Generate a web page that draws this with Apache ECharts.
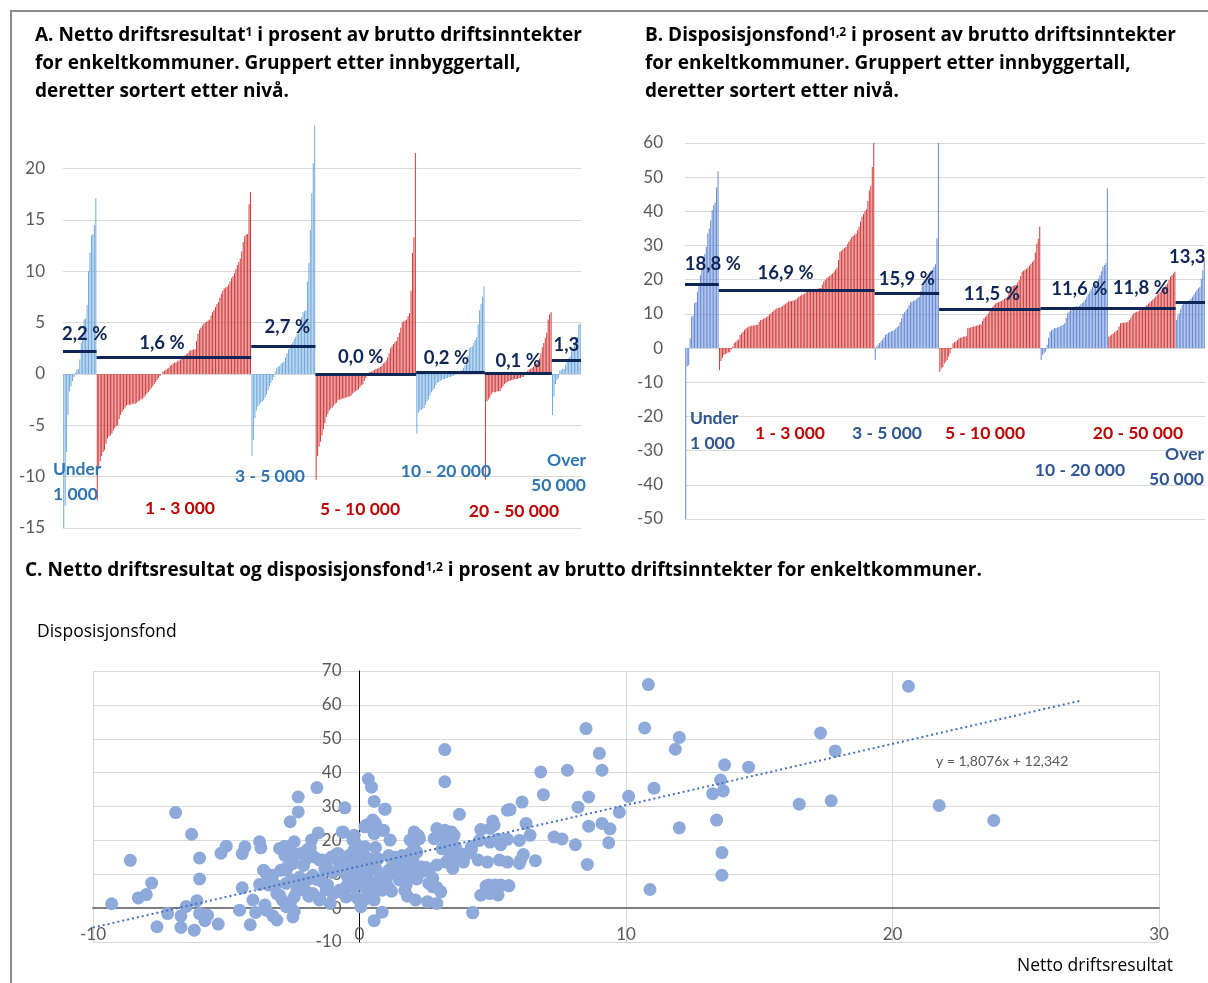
<!DOCTYPE html>
<html><head><meta charset="utf-8">
<script src="https://cdn.jsdelivr.net/npm/echarts@6/dist/echarts.min.js"></script>
<style>html,body{margin:0;padding:0;background:#fff;}#c{width:1208px;height:983px;}</style>
</head><body><div id="c"></div>
<script>
// ---------- DATA ----------
const groupNames = ['Under 1 000','1 - 3 000','3 - 5 000','5 - 10 000','10 - 20 000','20 - 50 000','Over 50 000'];

// Panel A: netto driftsresultat (% of brutto driftsinntekter), sorted within each group
const aUnder1000 = [-15,-12.8,-7.6,-4.0,-1.7,-1.2,-0.7,-0.3,0.1,0.4,0.5,1.4,3.0,4.0,5.3,5.4,6.7,10.0,11.8,13.5,13.6,14.5,17.1];
const a1to3000 = [-12.3,-9.2,-8.5,-8.0,-7.6,-7.4,-6.8,-6.3,-6.1,-6.0,-5.8,-5.5,-5.3,-5.1,-5.0,-4.4,-4.0,-3.7,-3.5,-3.3,
  -3.1,-3.0,-3.0,-3.0,-2.9,-2.9,-2.9,-2.8,-2.7,-2.6,-2.5,-2.4,-2.3,-2.1,-1.9,-1.8,-1.6,-1.4,-1.2,-1.0,
  -0.8,-0.6,-0.4,-0.2,0.0,0.2,0.3,0.4,0.5,0.6,0.8,0.9,1.0,1.1,1.1,1.2,1.3,1.4,1.6,1.7,
  1.8,1.9,2.0,2.2,2.3,2.3,2.4,2.4,3.2,3.9,4.3,4.5,4.7,4.9,5.0,5.1,5.2,5.3,5.7,6.0,
  6.2,6.5,6.8,7.0,7.4,7.8,8.1,8.3,8.4,8.5,8.7,9.0,9.3,9.5,9.8,10.2,10.6,10.9,11.2,11.9,
  12.8,13.4,13.6,13.6,16.5,17.7];
const a3to5000 = [-8.0,-6.4,-4.3,-3.6,-3.2,-3.0,-2.8,-2.7,-2.6,-2.3,-2.0,-1.6,-1.2,-0.9,-0.6,-0.3,0.2,0.6,0.7,0.8,
  1.0,1.1,1.2,1.6,2.0,2.4,2.7,2.9,3.1,3.4,3.6,3.9,4.3,4.8,5.5,6.0,6.1,6.2,9.0,10.8,14.0,17.6,20.5,24.2];
const a5to10000 = [-10.3,-8.0,-7.1,-6.6,-6.0,-5.4,-4.8,-4.2,-3.9,-3.6,-3.4,-3.3,-3.1,-2.9,-2.8,-2.6,-2.5,-2.5,-2.4,-2.4,
  -2.3,-2.3,-2.2,-2.2,-2.1,-1.9,-1.8,-1.7,-1.6,-1.5,-1.3,-1.1,-1.0,-0.7,-0.4,0.0,0.1,0.2,0.2,0.3,
  0.4,0.5,0.5,0.6,0.7,0.8,1.0,1.1,1.3,1.6,2.0,2.5,2.7,2.9,3.1,3.2,3.6,4.0,4.5,5.0,
  5.1,5.2,5.3,5.6,5.9,8.1,11.8,13.3,21.5];
const a10to20000 = [-5.8,-3.8,-3.6,-3.5,-3.4,-3.3,-3.0,-2.7,-2.5,-2.1,-1.8,-1.6,-1.4,-1.1,-0.9,-0.8,-0.7,-0.6,-0.5,-0.5,
  -0.4,-0.4,-0.3,-0.3,-0.2,-0.2,-0.1,0.0,0.1,0.2,0.3,0.4,0.6,0.9,1.2,1.8,2.5,2.6,2.7,3.0,
  3.3,3.6,4.8,6.2,6.8,7.5,8.5];
const a20to50000 = [-10.3,-2.7,-2.5,-2.3,-2.0,-1.8,-1.8,-1.8,-1.7,-1.7,-1.7,-1.4,-1.2,-1.0,-0.9,-0.8,-0.7,-0.7,-0.6,-0.6,
  -0.5,-0.5,-0.5,-0.4,-0.4,-0.3,-0.3,-0.1,0.1,0.3,0.4,0.5,0.6,0.7,0.9,1.0,1.2,1.5,2.0,2.6,
  3.0,3.5,4.0,5.3,5.8,6.0];
const aOver50000 = [-4.0,-2.2,-1.0,-0.6,-0.4,0.3,0.4,0.5,0.5,0.9,1.2,1.5,1.7,2.2,2.6,3.0,3.3,3.6,4.8,4.9];
const avgA = [2.2,1.6,2.7,0.0,0.2,0.1,1.3];
const avgALabels = ['2,2 %','1,6 %','2,7 %','0,0 %','0,2 %','0,1 %','1,3'];

// Panel B: disposisjonsfond (% of brutto driftsinntekter), sorted within each group
const bUnder1000 = [-50,-5.4,-5.0,2.9,9.2,9.5,13.1,13.5,16.5,18.5,21.3,23.0,25.0,27.5,29.6,33.5,35.0,37.4,40.3,41.8,42.5,47.0,51.7];
const b1to3000 = [-6.4,-3.8,-2.8,-2.0,-1.7,-1.5,-1.3,-1.2,-0.4,0.5,1.4,1.8,2.2,2.5,3.8,4.3,4.8,5.3,5.7,6.0,
  6.3,6.4,6.5,6.6,6.7,6.8,6.8,7.6,8.2,8.4,8.6,8.8,9.0,9.4,9.8,10.2,10.6,11.0,11.3,11.6,
  11.7,11.9,12.0,12.3,12.7,13.0,13.3,13.6,13.7,13.8,13.9,14.0,14.3,14.6,15.0,15.3,15.5,15.7,16.0,16.3,
  16.5,16.6,16.8,16.9,17.1,17.2,17.3,17.4,17.5,17.6,18.5,19.5,20.0,20.4,20.8,21.1,21.5,21.8,22.4,23.0,
  23.5,25.8,28.2,28.5,28.9,29.3,29.6,30.4,31.1,31.8,32.5,32.8,33.2,33.5,34.5,35.5,37.0,38.4,39.2,40.0,
  40.6,43.0,46.2,47.5,53.0,60.0];
const b3to5000 = [-3.5,0.5,1.0,1.5,2.0,2.5,3.2,3.8,4.2,4.5,4.7,4.9,5.1,5.3,5.7,6.1,6.5,7.6,8.7,10.0,
  10.5,11.1,11.6,12.5,13.4,13.6,13.8,14.0,14.3,14.7,15.0,16.7,18.4,19.0,19.5,20.7,21.8,22.2,22.6,23.0,
  23.8,24.5,32.1,60.0];
const b5to10000 = [-6.9,-6.0,-5.5,-4.5,-4.0,-3.5,-2.5,-1.5,-0.3,1.4,1.7,1.9,2.4,2.9,3.0,3.1,3.3,3.4,3.5,5.8,
  5.9,6.0,6.2,6.3,6.4,6.5,6.7,6.8,7.0,7.9,8.7,9.1,9.5,10.2,10.9,11.6,12.1,12.6,13.1,13.3,
  13.5,13.7,13.8,14.1,14.4,14.7,15.0,16.5,17.9,18.1,18.2,18.4,18.5,19.2,19.9,21.1,22.3,22.6,22.9,23.2,
  23.5,24.1,24.7,25.2,25.7,28.0,30.6,32.0,35.5];
const b10to20000 = [-3.5,-2.0,-1.5,-1.0,1.0,3.0,4.8,5.2,5.5,5.8,5.9,6.0,6.2,6.4,6.5,6.9,7.3,8.8,10.2,10.7,
  11.2,11.6,12.0,12.1,12.2,12.2,12.3,12.8,13.2,13.6,14.3,15.0,15.8,16.5,17.2,17.9,18.4,18.9,19.4,20.3,
  21.3,22.5,23.8,24.3,24.8,46.7];
const b20to50000 = [3.3,3.6,4.0,4.3,4.6,5.0,5.3,6.3,7.3,7.4,7.4,7.5,7.5,7.6,8.2,8.9,9.6,10.2,10.4,10.6,
  10.8,11.0,11.2,11.5,11.9,12.2,12.6,13.0,13.4,13.8,14.2,14.6,15.1,15.6,16.0,16.5,17.0,17.4,17.9,18.4,
  18.9,19.9,20.9,21.4,21.8,22.3];
const bOver50000 = [8.2,9.5,10.2,11.5,12.6,13.0,13.3,13.6,13.8,14.0,14.5,15.0,15.7,16.3,17.0,17.5,17.9,20.3,22.8,25.7];
const avgB = [18.8,16.9,15.9,11.5,11.6,11.8,13.3];
const avgBLabels = ['18,8 %','16,9 %','15,9 %','11,5 %','11,6 %','11,8 %','13,3'];

// Panel C: [netto driftsresultat, disposisjonsfond]
const scatterPoints = [
 [-9.3,1.3],[-8.6,14.1],[-8.3,3.0],[-8.0,4.0],[-7.8,7.4],[-6.9,28.2],[-7.6,-5.5],[-7.2,-1.6],[-6.7,-5.7],[-6.7,-2.3],
 [-6.5,0.5],[-6.3,21.8],[-6.2,-6.5],[-6.1,2.2],[-6.0,14.8],[-6.0,8.6],[-6.0,-1.6],[-5.8,-3.7],[-5.7,-2.1],[-5.3,-4.7],
 [-5.2,16.2],[-5.0,18.3],[-4.5,-0.6],[-4.4,16.1],[-4.3,18.1],[-4.4,6.0],[-4.1,-4.9],[-4.0,2.4],[-3.9,-1.3],[-3.75,19.6],
 [-3.7,17.8],[-3.6,11.2],[-3.5,10.2],[-3.25,9.7],[-3.75,7.0],[-3.55,0.9],[-3.5,-0.6],[-3.25,-2.3],[-3.1,-3.5],[-3.1,4.3],
 [-3.0,17.6],[-2.8,18.3],[-2.8,15.6],[-2.6,25.5],[-2.55,16.6],[-2.5,13.2],[-2.75,11.2],[-2.95,11.2],[-2.75,7.3],[-3.0,3.8],
 [-2.9,2.4],[-2.75,0.4],[-2.5,-2.6],[-2.45,19.6],[-2.3,28.4],[-2.3,32.8],[-2.55,8.3],[-2.45,3.3],[-3.4,6.8],[-3.15,6.8],
 [-2.7,12.2],[-2.6,1.4],[-2.45,-1.0],[-2.35,5.0],[-2.5,7.8],[-2.1,12.6],[-1.9,3.5],[-1.8,20.1],[-1.85,17.7],[-1.6,35.6],
 [-1.55,22.2],[-1.7,15.1],[-1.5,14.2],[-1.3,14.0],[-1.75,9.7],[-1.45,8.3],[-1.2,6.8],[-1.5,2.4],[-1.1,1.4],[-1.0,4.3],
 [-0.85,16.0],[-0.6,22.4],[-0.55,29.6],[-0.75,13.2],[-0.7,4.8],[-0.45,9.2],[-0.5,3.3],[-0.25,20.1],[-0.2,17.1],[-0.4,15.1],
 [-0.15,11.2],[-0.05,7.3],[-0.1,3.2],[-2.25,9.1],[-2.0,5.0],[-1.75,4.3],[-1.5,3.0],[-1.25,5.5],[-1.4,7.8],[-1.6,8.5],
 [-1.9,8.6],[-2.1,7.5],[-2.5,15.0],[-2.2,16.1],[-2.0,14.5],[-1.95,17.3],[-1.85,15.9],[-1.4,14.2],[-1.25,12.7],[-1.05,15.1],
 [-0.8,16.1],[-0.7,11.2],[-0.55,14.6],[-0.65,22.5],[-0.2,21.5],[-0.15,19.1],[-0.4,15.5],[-0.15,16.0],[0.0,13.9],[0.2,15.3],
 [0.4,14.5],[0.1,12.3],[-0.2,11.8],[-0.4,11.2],[0.45,11.2],[0.6,11.8],[0.75,10.2],[1.0,8.3],[0.6,7.3],[0.3,8.3],
 [0.0,9.3],[-0.2,8.3],[-0.4,7.3],[-0.5,6.3],[-0.75,5.3],[-0.2,6.3],[0.2,6.3],[0.5,5.3],[0.85,5.3],[1.0,7.3],
 [0.2,24.0],[0.33,38.1],[0.45,35.7],[0.55,31.5],[0.5,26.0],[0.6,25.0],[0.95,29.2],[0.55,22.0],[0.85,23.0],[0.2,18.1],
 [0.6,17.9],[0.7,14.6],[0.25,12.2],[0.2,9.2],[0.45,7.3],[0.75,8.3],[1.0,5.8],[0.55,2.4],[0.25,2.8],[0.55,-3.7],
 [0.85,-1.2],[0.05,0.4],[-0.05,2.8],[0.25,24.5],[0.9,23.0],[1.15,20.1],[2.05,22.5],[2.2,21.5],[2.25,20.5],[1.9,20.1],
 [2.9,23.5],[3.2,23.0],[3.45,22.5],[3.55,21.5],[2.8,20.5],[3.25,19.6],[3.9,15.6],[3.75,14.6],[3.9,13.6],[3.25,13.6],
 [3.5,11.7],[2.75,8.8],[2.9,12.7],[2.5,12.0],[2.3,12.2],[2.1,12.0],[2.1,8.9],[1.75,6.8],[1.8,3.5],[2.1,2.4],
 [2.55,1.9],[2.9,1.4],[2.75,6.3],[3.05,4.8],[4.25,-1.3],[1.1,6.0],[1.2,5.0],[1.1,15.5],[1.35,15.0],[1.6,15.5],
 [1.7,13.5],[1.5,12.8],[1.25,13.3],[1.1,11.2],[1.35,10.2],[1.6,11.2],[1.85,10.2],[2.1,11.2],[2.35,10.8],[2.6,11.2],
 [1.5,8.3],[3.2,46.8],[3.2,37.3],[3.75,27.7],[5.55,28.9],[4.55,23.2],[5.0,25.7],[5.05,24.5],[4.9,23.5],[4.5,20.0],
 [4.9,19.5],[5.2,20.3],[5.3,18.7],[5.55,20.3],[4.2,18.1],[4.45,14.2],[4.8,13.6],[5.25,14.2],[5.55,13.6],[4.55,3.8],
 [4.9,4.3],[4.85,6.8],[5.1,6.8],[5.3,6.8],[5.6,6.6],[4.75,6.5],[5.2,3.9],[3.05,21.5],[3.4,20.8],[3.6,18.1],
 [3.3,18.8],[3.5,17.0],[3.1,17.5],[3.4,15.1],[3.6,14.2],[3.85,16.0],[4.1,16.2],[4.2,17.2],[2.05,17.8],[2.15,16.5],
 [1.9,16.2],[2.0,14.5],[1.7,5.2],[2.6,7.3],[2.9,6.1],[1.65,8.8],[2.15,8.6],[0.96,29.2],[-1.0,10.5],[-1.3,11.5],
 [10.84,66.0],[8.5,53.0],[10.7,53.2],[12.0,50.4],[11.85,46.9],[9.0,45.7],[6.8,40.2],[7.8,40.7],[9.1,40.7],[13.7,42.3],
 [14.6,41.6],[13.55,37.8],[13.25,33.8],[13.65,34.6],[11.05,35.4],[10.1,33.0],[6.9,33.5],[8.6,32.8],[6.1,31.3],[8.2,29.8],
 [9.75,28.3],[5.65,29.1],[13.4,26.0],[12.0,23.7],[8.6,24.2],[9.1,25.0],[9.4,23.4],[9.35,19.3],[8.1,18.7],[13.6,16.4],
 [8.55,12.9],[13.6,9.7],[10.9,5.5],[6.25,25.0],[6.0,20.0],[6.4,21.5],[7.3,21.0],[7.6,20.4],[6.0,13.2],[6.05,14.2],
 [6.15,15.8],[6.6,14.0],[5.6,6.6],[4.25,-1.4],[20.6,65.5],[17.3,51.7],[17.85,46.4],[16.5,30.7],[17.7,31.7],[21.75,30.3],
 [23.8,25.9]
];
const trendSlope = 1.8076, trendIntercept = 12.342;
const trendXRange = [-10, 27.1];
const trendLabel = 'y = 1,8076x + 12,342';

// ---------- BUILD ----------
const FONT = 'Lato';
const TFONT = 'Open Sans';
const NAVY = '#0e2557';
const GRID_GRAY = '#d9d9d9';
const LABEL_GRAY = '#595959';

function buildBars(groups, colors) {
  const data = [], ranges = [];
  let i = 0;
  groups.forEach((g, gi) => {
    const s = i;
    g.forEach(v => { data.push({ value: [i, v], itemStyle: { color: colors[gi % 2] } }); i++; });
    ranges.push([s, i - 1]);
  });
  return { data, ranges, n: i };
}
const A = buildBars([aUnder1000,a1to3000,a3to5000,a5to10000,a10to20000,a20to50000,aOver50000], ['#6fa8dc', '#d23a3a']);
const B = buildBars([bUnder1000,b1to3000,b3to5000,b5to10000,b10to20000,b20to50000,bOver50000], ['#6287d4', '#d23a3a']);

// label placement tweaks: [vertical distance, horizontal shift]
const avgLabelPosA = [[8,5],[5,-12],[10,4],[7.5,-5],[4.5,-4],[2.5,0],[6,0]];
const avgLabelPosB = [[10,11],[8,-11],[5.5,0],[5.5,2],[10,5],[10,-1],[36,-3]];

function avgLines(ranges, avgs, labels, pos) {
  return ranges.map((r, gi) => {
    const dx = pos[gi][1];
    const lab = { show: true, position: 'middle', formatter: labels[gi], color: NAVY, fontFamily: FONT,
                  fontWeight: 'bold', fontSize: 18.5, distance: pos[gi][0],
                  padding: [0, dx < 0 ? -2 * dx : 0, 0, dx > 0 ? 2 * dx : 0] };
    return [{ coord: [r[0] - 0.5, avgs[gi]], label: lab }, { coord: [r[1] + 0.5, avgs[gi]], label: lab }];
  });
}

const trendData = trendXRange.map(x => [x, trendSlope * x + trendIntercept]);

function txt(x, y, text, color, size, align, weight, family) {
  const f = family || FONT;
  return { type: 'text', x: x, y: y, silent: true, z: 100,
    style: { text: text, fill: color, font: (weight || 'normal') + ' ' + size + 'px "' + f + '"',
      fontFamily: f, fontSize: size, fontWeight: weight || 'normal',
      align: align || 'left', textAlign: align || 'left',
      verticalAlign: 'middle', textVerticalAlign: 'middle', lineHeight: 25 } };
}
function richTitle(x, y, parts) {
  return { type: 'text', x: x, y: y, silent: true, z: 100,
    style: { text: parts, verticalAlign: 'middle', textVerticalAlign: 'middle', align: 'left',
      rich: { b: { fontFamily: TFONT, fontSize: 19, fontWeight: 'bold', fill: '#000', color: '#000' },
              s: { fontFamily: TFONT, fontSize: 12, fontWeight: 'bold', fill: '#000', color: '#000', verticalAlign: 'top' } } } };
}

const blueA = '#2e75b6', blueB = '#2f5597', red = '#c00000';

const graphics = [
  { type: 'polyline', silent: true, z: 100, shape: { points: [[11, 990], [11, 11], [1215, 11]] }, style: { stroke: '#8c8c8c', lineWidth: 2, fill: null } },
  richTitle(35, 36, '{b|A. Netto driftsresultat}{s|1}{b| i prosent av brutto driftsinntekter}'),
  richTitle(35, 64, '{b|for enkeltkommuner. Gruppert etter innbyggertall,}'),
  richTitle(35, 92, '{b|deretter sortert etter nivå.}'),
  richTitle(645, 36, '{b|B. Disposisjonsfond}{s|1,2}{b| i prosent av brutto driftsinntekter}'),
  richTitle(645, 64, '{b|for enkeltkommuner. Gruppert etter innbyggertall,}'),
  richTitle(645, 92, '{b|deretter sortert etter nivå.}'),
  richTitle(25, 571, '{b|C. Netto driftsresultat og disposisjonsfond}{s|1,2}{b| i prosent av brutto driftsinntekter for enkeltkommuner.}'),
  // Panel A group labels
  txt(53, 482, 'Under\n1 000', blueA, 17.5, 'left', 'bold'),
  txt(180, 508, groupNames[1], red, 17.5, 'center', 'bold'),
  txt(270, 476, groupNames[2], blueA, 17.5, 'center', 'bold'),
  txt(360, 509, groupNames[3], red, 17.5, 'center', 'bold'),
  txt(446, 471, groupNames[4], blueA, 17.5, 'center', 'bold'),
  txt(514, 511, groupNames[5], red, 17.5, 'center', 'bold'),
  txt(586, 473, 'Over\n50 000', blueA, 17.5, 'right', 'bold'),
  // Panel B group labels
  txt(690, 431, 'Under\n1 000', blueB, 17.5, 'left', 'bold'),
  txt(790, 433, groupNames[1], red, 17.5, 'center', 'bold'),
  txt(887, 433, groupNames[2], blueB, 17.5, 'center', 'bold'),
  txt(985, 433, groupNames[3], red, 17.5, 'center', 'bold'),
  txt(1080, 470, groupNames[4], blueB, 17.5, 'center', 'bold'),
  txt(1138, 433, groupNames[5], red, 17.5, 'center', 'bold'),
  txt(1204, 467, 'Over\n50 000', blueB, 17.5, 'right', 'bold'),
  // Panel C texts
  txt(37, 632, 'Disposisjonsfond', '#000', 17.5, 'left', 'normal', TFONT),
  txt(1173, 966, 'Netto driftsresultat', '#000', 17.5, 'right', 'normal', TFONT),
  txt(936, 761, trendLabel, LABEL_GRAY, 14, 'left')
];

const axisLabelStyle = { color: LABEL_GRAY, fontFamily: FONT, fontSize: 17 };
const gridC = { left: 93, top: 671, width: 1066, height: 271 };
const xMinC = -10, xMaxC = 30, yMinC = -10, yMaxC = 70;

const option = {
  animation: false,
  backgroundColor: '#fff',
  grid: [
    { left: 63, top: 117, width: 518, height: 411 },
    { left: 685, top: 143, width: 520, height: 376 },
    gridC
  ],
  xAxis: [
    { gridIndex: 0, type: 'value', min: -0.5, max: A.n - 0.5, show: false },
    { gridIndex: 1, type: 'value', min: -0.5, max: B.n - 0.5, show: false },
    { gridIndex: 2, type: 'value', min: xMinC, max: xMaxC, interval: 10, position: 'bottom',
      // axis crosses at y = 0
      offset: -gridC.height * (0 - yMinC) / (yMaxC - yMinC),
      axisLine: { show: true, onZero: false, lineStyle: { color: '#7f7f7f', width: 2 } },
      axisTick: { show: false },
      axisLabel: Object.assign({ margin: 18 }, axisLabelStyle),
      splitLine: { show: true, lineStyle: { color: GRID_GRAY, width: 1 } } }
  ],
  yAxis: [
    { gridIndex: 0, type: 'value', min: -15, max: 25, interval: 5,
      axisLine: { show: false }, axisTick: { show: false },
      axisLabel: Object.assign({ margin: 18, showMaxLabel: false }, axisLabelStyle),
      splitLine: { show: true, showMaxLine: false, lineStyle: { color: GRID_GRAY, width: 1 } } },
    { gridIndex: 1, type: 'value', min: -50, max: 60, interval: 10,
      axisLine: { show: false }, axisTick: { show: false },
      axisLabel: Object.assign({ margin: 22 }, axisLabelStyle),
      splitLine: { show: true, lineStyle: { color: GRID_GRAY, width: 1 } } },
    { gridIndex: 2, type: 'value', min: yMinC, max: yMaxC, interval: 10, position: 'left',
      // axis crosses at x = 0
      offset: -gridC.width * (0 - xMinC) / (xMaxC - xMinC),
      axisLine: { show: true, onZero: false, lineStyle: { color: '#000', width: 1 } },
      axisTick: { show: false },
      axisLabel: Object.assign({ margin: 18 }, axisLabelStyle),
      splitLine: { show: true, lineStyle: { color: GRID_GRAY, width: 1 } } }
  ],
  series: [
    { type: 'bar', xAxisIndex: 0, yAxisIndex: 0, barWidth: 1, data: A.data, silent: true,
      markLine: { silent: true, symbol: 'none', animation: false,
        lineStyle: { color: NAVY, width: 3, type: 'solid' },
        data: avgLines(A.ranges, avgA, avgALabels, avgLabelPosA) } },
    { type: 'bar', xAxisIndex: 1, yAxisIndex: 1, barWidth: 1, data: B.data, silent: true,
      markLine: { silent: true, symbol: 'none', animation: false,
        lineStyle: { color: NAVY, width: 3, type: 'solid' },
        data: avgLines(B.ranges, avgB, avgBLabels, avgLabelPosB) } },
    { type: 'scatter', xAxisIndex: 2, yAxisIndex: 2, data: scatterPoints, symbolSize: 13, silent: true,
      itemStyle: { color: '#8eaadb', opacity: 1 }, z: 2 },
    { type: 'line', xAxisIndex: 2, yAxisIndex: 2, data: trendData, showSymbol: false, silent: true,
      lineStyle: { color: '#4472c4', width: 2, type: [2, 3] }, z: 3 }
  ],
  graphic: graphics
};

const chart = echarts.init(document.getElementById('c'), null, { renderer: 'canvas' });
chart.setOption(option);
</script>
</body></html>
